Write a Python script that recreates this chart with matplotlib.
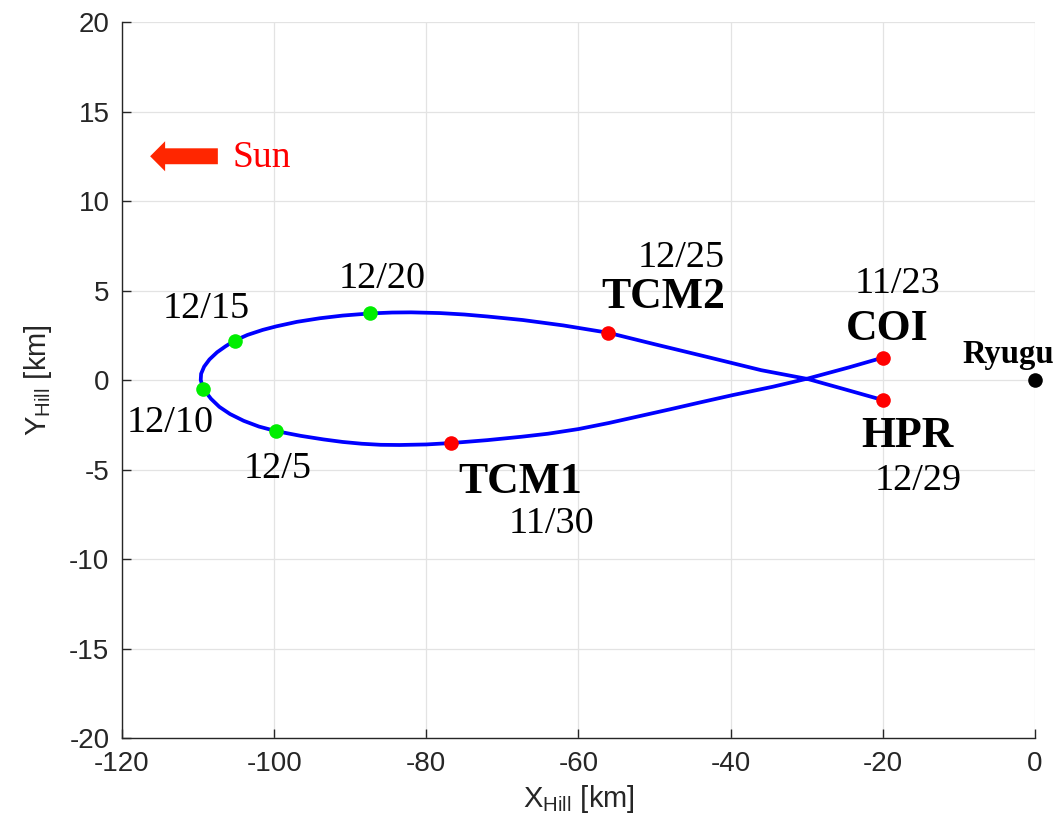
import matplotlib
matplotlib.use("Agg")
import matplotlib.pyplot as plt
from matplotlib.patches import FancyArrow

# ---- data ----
traj_x = [-20.0, -24.5, -29.8, -34.5, -39.7, -44.0, -48.0, -52.0, -56.0, -60.0,
          -64.0, -67.5, -72.0, -76.7, -80.0, -83.5, -86.0, -88.5, -91.0, -93.5,
          -96.5, -99.8, -102.0, -104.0, -105.8, -107.2, -108.3, -109.3, -109.65, -109.6,
          -109.2, -108.5, -107.5, -106.4, -105.2, -103.5, -101.5, -99.7, -97.0, -94.0,
          -91.0, -87.4, -84.5, -82.0, -78.2, -75.0, -72.0, -67.3, -62.0, -56.1,
          -50.0, -43.0, -36.0, -29.8, -25.0, -20.0]
traj_y = [1.25, 0.70, 0.09, -0.38, -0.84, -1.25, -1.64, -2.02, -2.40, -2.74,
          -3.00, -3.17, -3.36, -3.52, -3.60, -3.63, -3.62, -3.56, -3.46, -3.32,
          -3.12, -2.85, -2.60, -2.28, -1.90, -1.50, -1.05, -0.50, 0.00, 0.35,
          0.75, 1.15, 1.55, 1.88, 2.20, 2.52, 2.80, 3.00, 3.25, 3.45,
          3.60, 3.72, 3.77, 3.78, 3.74, 3.66, 3.55, 3.35, 3.05, 2.64,
          2.00, 1.28, 0.55, 0.05, -0.52, -1.12]

event_names = ["COI", "TCM1", "TCM2", "HPR"]
event_x = [-20.0, -76.7, -56.1, -20.0]
event_y = [1.25, -3.52, 2.64, -1.12]

date_names = ["12/5", "12/10", "12/15", "12/20"]
date_x = [-99.8, -109.3, -105.2, -87.4]
date_y = [-2.85, -0.50, 2.20, 3.72]

ryugu_x = [0.0]
ryugu_y = [0.0]

xticks = [-120, -100, -80, -60, -40, -20, 0]
yticks = [-20, -15, -10, -5, 0, 5, 10, 15, 20]

plt.rcParams["mathtext.fontset"] = "custom"
plt.rcParams["mathtext.rm"] = "Liberation Sans"
plt.rcParams["mathtext.it"] = "Liberation Sans"
plt.rcParams["axes.unicode_minus"] = False

fig = plt.figure(figsize=(10.57, 8.34), dpi=100)
ax = fig.add_axes([0.1154, 0.1151, 0.9792 - 0.1154, 0.9736 - 0.1151])

ax.plot(traj_x, traj_y, color="#0000ff", lw=2.7, zorder=3,
        solid_capstyle="round", solid_joinstyle="round")
ax.plot(event_x, event_y, "o", color="#ff0000", ms=10.5, mec="none", zorder=4)
ax.plot(date_x, date_y, "o", color="#00ee00", ms=10.5, mec="none", zorder=4)
ax.plot(ryugu_x, ryugu_y, "o", color="black", ms=10.5, mec="none", zorder=4, clip_on=False)

ax.set_xlim(-120, 0)
ax.set_ylim(-20, 20)
ax.set_xticks(xticks)
ax.set_yticks(yticks)
ax.grid(True, color="#e3e3e3", lw=0.9)
ax.set_axisbelow(True)
for s in ["top", "right"]:
    ax.spines[s].set_visible(False)
for s in ["left", "bottom"]:
    ax.spines[s].set_color("#262626")
    ax.spines[s].set_linewidth(1.0)
ax.tick_params(direction="in", length=6.5, width=1.0, color="#262626",
               labelsize=20, labelcolor="#262626", pad=9)
for lab in ax.get_xticklabels() + ax.get_yticklabels():
    lab.set_family("Liberation Sans")

ax.set_xlabel(r"X$_{\mathrm{Hill}}$ [km]", fontsize=21, color="#262626",
              family="Liberation Sans", labelpad=5)
ax.set_ylabel(r"Y$_{\mathrm{Hill}}$ [km]", fontsize=21, color="#262626",
              family="Liberation Sans", labelpad=11)

serif = "Liberation Serif"
def t(x, y, s, size, bold=False, color="black"):
    ax.text(x, y, s, fontsize=size, fontweight="bold" if bold else "normal",
            family=serif, color=color, ha="center", va="baseline", zorder=5,
            clip_on=False)

t(-85.8, 5.14, "12/20", 27.5)
t(-108.96, 3.46, "12/15", 27.5)
t(-113.7, -2.9, "12/10", 27.5)
t(-99.6, -5.47, "12/5", 27.5)
t(-67.6, -6.33, "TCM1", 31.5, bold=True)
t(-63.5, -8.53, "11/30", 27.5)
t(-46.5, 6.31, "12/25", 27.5)
t(-48.8, 4.02, "TCM2", 31.5, bold=True)
t(-18.1, 4.86, "11/23", 27.5)
t(-19.45, 2.23, "COI", 31.5, bold=True)
t(-3.55, 0.95, "Ryugu", 23.5, bold=True)
t(-16.8, -3.74, "HPR", 31.5, bold=True)
t(-15.4, -6.15, "12/29", 27.5)

ax.text(-105.5, 11.92, "Sun", fontsize=27, family=serif, color="#ff0000",
        ha="left", va="baseline")
arrow = FancyArrow(-107.4, 12.5, -8.9, 0, width=0.89, head_width=1.68,
                   head_length=1.97, length_includes_head=True,
                   color="#ff2600", lw=0, zorder=5)
ax.add_patch(arrow)

fig.savefig("out.png", dpi=100)
